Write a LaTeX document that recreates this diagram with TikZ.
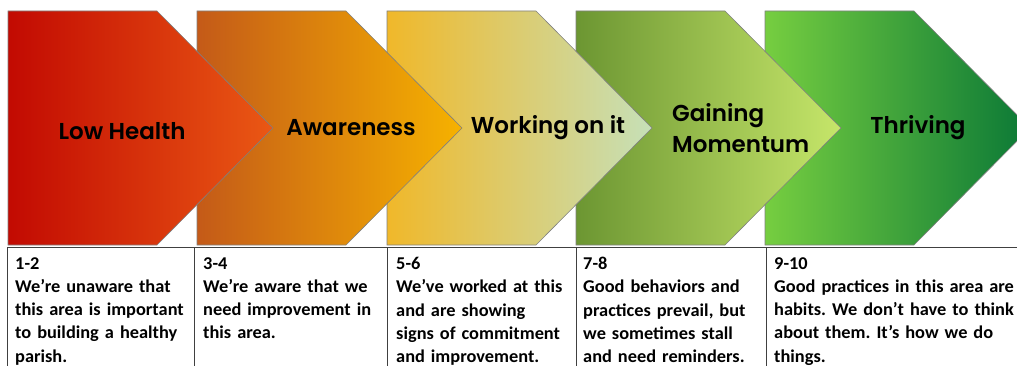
\documentclass[tikz,border=0pt]{standalone}
\usepackage{fontspec}
\setmainfont{Carlito}[FakeStretch=1.02]
\newfontfamily\chevfont{Poppins}[BoldFont={* SemiBold}]
\frenchspacing
\definecolor{c1a}{HTML}{C20A02}\definecolor{c1b}{HTML}{E33A06}\definecolor{c1c}{HTML}{EA5814}
\definecolor{c2a}{HTML}{C45A18}\definecolor{c2b}{HTML}{D26C1E}\definecolor{c2c}{HTML}{F6B200}
\definecolor{c3a}{HTML}{F0B82A}\definecolor{c3b}{HTML}{E6E23A}\definecolor{c3c}{HTML}{C6E0B8}
\definecolor{c4a}{HTML}{6C9632}\definecolor{c4b}{HTML}{92BE38}\definecolor{c4c}{HTML}{C6E66A}
\definecolor{c5a}{HTML}{76CE40}\definecolor{c5b}{HTML}{189838}\definecolor{c5c}{HTML}{0A7836}
\begin{document}
\begin{tikzpicture}[x=1pt,y=-1pt,
  chev/.style={draw=black!50, line width=0.6pt},
  lbl/.style={font=\chevfont\bfseries\fontsize{23}{31}\selectfont, text=black, inner sep=0},
  cell/.style={anchor=north west, inner sep=0, text width=#1, align=left,
    font=\bfseries\fontsize{18}{23.3}\selectfont},
  rule/.style={draw=black!75, line width=0.8pt}]
\useasboundingbox (0,0) rectangle (1017,366);
\clip (0,0) rectangle (1017,366);
\newcommand\mychev[4]{\path[chev,left color=#2,middle color=#3,right color=#4]
  (#1,11) -- ++(149,0) -- ++(116,117) -- ++(-116,117) -- ++(-149,0) -- cycle;}
\mychev{765}{c5a}{c5b}{c5c}
\mychev{576}{c4a}{c4b}{c4c}
\mychev{387}{c3a}{c3b}{c3c}
\mychev{197}{c2a}{c2b}{c2c}
\mychev{8}{c1a}{c1b}{c1c}
\node[lbl] (low) at (122,131) {Low Health};
\node[lbl] (aware) at (351,128) {Awareness};
\node[lbl] (work) at (548,128) {Working on it};
\node[lbl, align=left, anchor=west] (gain) at (672,128) {Gaining\\Momentum};
\node[lbl] (thrive) at (918,128) {Thriving};
% table
\coordinate (h0) at (7,247); \coordinate (h1) at (1017,247);
\coordinate (v0) at (7,366); \coordinate (v1) at (194,366); \coordinate (v2) at (387,366);
\coordinate (v3) at (576,366); \coordinate (v4) at (766,366);
\coordinate (w0) at (7,247); \coordinate (w1) at (194,247); \coordinate (w2) at (387,247);
\coordinate (w3) at (576,247); \coordinate (w4) at (766,247);
\draw[rule] (h0) -- (h1);
\foreach \i in {0,...,4} \draw[rule] (w\i) -- (v\i);
\node[cell=178pt] (t1) at (15,257) {1-2\\We’re unaware that\\this area is important\\to building a healthy\\parish.};
\node[cell=180pt] (t2) at (203,257) {3-4\\We’re aware that we\\need improvement in\\this area.};
\node[cell=180pt] (t3) at (396,257) {5-6\\We’ve worked at this\\and are showing\\signs of commitment\\and improvement.};
\node[cell=180pt] (t4) at (583,257) {7-8\\Good behaviors and\\practices prevail, but\\we sometimes stall\\and need reminders.};
\node[cell=270pt] (t5) at (774,257) {9-10\\Good practices in this area are\\habits. We don’t have to think\\about them. It’s how we do\\things.};
\end{tikzpicture}
\end{document}
